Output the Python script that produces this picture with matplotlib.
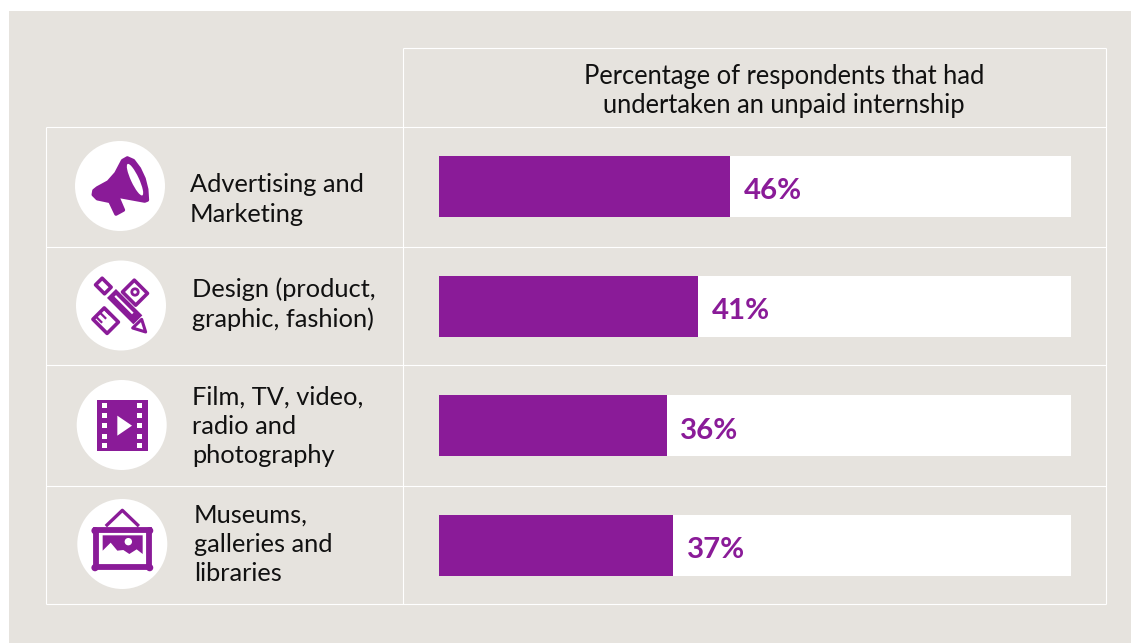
import matplotlib
matplotlib.use("Agg")
import matplotlib.pyplot as plt
from matplotlib.patches import Circle, Ellipse, Polygon, Rectangle
import numpy as np

# Survey values
categories = ["Advertising and\nMarketing", "Design (product,\ngraphic, fashion)",
              "Film, TV, video,\nradio and\nphotography", "Museums,\ngalleries and\nlibraries"]
percentages = [46, 41, 36, 37]
header = "Percentage of respondents that had\nundertaken an unpaid internship"

W, H = 1131, 643
PURPLE = "#8a1b98"
PANEL = "#e6e3de"
FONT = "Lato"

fig = plt.figure(figsize=(W / 100, H / 100), dpi=100, facecolor="white")

# Pixel-space layer for panel, table rules, labels and icons
bg = fig.add_axes([0, 0, 1, 1])
bg.set_xlim(0, W)
bg.set_ylim(H, 0)
bg.axis("off")
bg.add_patch(Rectangle((9, 11), W - 9, H - 11, fc=PANEL, ec="none"))

rule = dict(color="white", lw=0.8, solid_capstyle="butt")
for y in (127.5, 247.5, 365.5, 486.5, 604.5):
    bg.plot([46, 1106], [y - 0.5, y - 0.5], **rule)
bg.plot([402.5, 1106], [48, 48], **rule)
bg.plot([46, 46], [127, 604], **rule)
bg.plot([402.5, 402.5], [48, 604], **rule)
bg.plot([1105.5, 1105.5], [48, 604], **rule)

# Two header lines placed on their own baselines
for line, base in zip(header.split("\n"), (84, 113)):
    bg.text(784, base, line, ha="center", va="baseline", fontsize=18.4,
            family=FONT, color="#111111")

label_x = [190, 192, 192, 194]
label_y = [199.5, 304.5, 426.5, 544.5]
for text, x, y in zip(categories, label_x, label_y):
    bg.text(x, y, text, ha="left", va="center", fontsize=18.3, family=FONT,
            color="#111111", linespacing=1.32)

centers = [(120, 186), (121, 305.5), (121.7, 425), (122.3, 544)]
for c in centers:
    bg.add_patch(Circle(c, 45, fc="white", ec="none"))


def from_crop(pts, ox, oy):
    return [(ox + x / 3, oy + y / 3) for x, y in pts]


def poly(pts, ox, oy, fc=PURPLE, **kw):
    bg.add_patch(Polygon(from_crop(pts, ox, oy), closed=True, fc=fc, ec="none", **kw))


def rotated(cx, cy, w, h, ox, oy, fc=PURPLE, ec="none", lw=0):
    # Rectangle turned 45 degrees, given in crop units
    a = np.deg2rad(45)
    u, v = np.array([np.cos(a), np.sin(a)]), np.array([-np.sin(a), np.cos(a)])
    c = np.array([cx, cy])
    corners = [c + s * w / 2 * u + t * h / 2 * v for s, t in ((-1, -1), (1, -1), (1, 1), (-1, 1))]
    bg.add_patch(Polygon(from_crop(corners, ox, oy), closed=True, fc=fc, ec=ec, lw=lw,
                         joinstyle="round"))


# Megaphone
ox, oy = 40, 120
verts = from_crop([(262, 114), (280, 122), (298, 146), (312, 176), (320, 208), (322, 240),
                   (314, 243), (232, 228), (250, 270), (228, 282), (210, 244), (172, 236),
                   (160, 224), (162, 212), (172, 204), (205, 186), (228, 160), (248, 122)], ox, oy)
bg.add_patch(Polygon(verts, closed=True, fc=PURPLE, ec=PURPLE, lw=2.6, joinstyle="round"))
bg.add_patch(Ellipse((40 + 285 / 3, 120 + 179 / 3), 24 / 3, 104 / 3, angle=-25, fc="white", ec="none"))

# Crossed pencil and ruler
outline = dict(fc="white", ec=PURPLE, lw=2.6)
rotated(285, 518, 56, 50, ox, oy, **outline)
bg.add_patch(Circle((40 + 285 / 3, 120 + 516 / 3), 3.2, fc="white", ec=PURPLE, lw=2))
rotated(197, 602, 60, 48, ox, oy, **outline)
for cx, cy in ((170, 592), (182, 580), (194, 568)):
    bg.plot([40 + cx / 3, 40 + (cx + 14) / 3], [120 + cy / 3, 120 + (cy + 14) / 3],
            color=PURPLE, lw=1.6)
rotated(245, 563, 180, 48, ox, oy, fc="white")
rotated(190, 498, 38, 28, ox, oy, fc="white", ec=PURPLE, lw=2.6)
rotated(254, 560, 112, 38, ox, oy)
bg.plot([40 + 228 / 3, 40 + 276 / 3], [120 + 530 / 3, 120 + 578 / 3], color="white", lw=1.6)
bg.add_patch(Polygon(from_crop([(305, 598), (317, 636), (278, 624)], ox, oy), closed=True,
                     fc="white", ec=PURPLE, lw=2.2, joinstyle="round"))

# Film strip
ox, oy = 40, 360
x0, y0 = from_crop([(170, 120)], ox, oy)[0]
bg.add_patch(Rectangle((x0, y0), 153 / 3, 153 / 3, fc=PURPLE, ec="none"))
for zx in (186, 292):
    for zy in (128, 159, 190, 221, 250):
        x, y = from_crop([(zx, zy)], ox, oy)[0]
        bg.add_patch(Rectangle((x, y), 5, 5, fc="white", ec="none"))
poly([(232, 167), (276, 197), (232, 227)], ox, oy, fc="white")

# Framed picture
bg.plot(*zip(*from_crop([(201, 495), (247, 451), (293, 495)], ox, oy)), color=PURPLE, lw=2.4,
        solid_joinstyle="round")
x0, y0 = from_crop([(168, 511)], ox, oy)[0]
bg.add_patch(Rectangle((x0, y0), 158 / 3, 110 / 3, fc="white", ec=PURPLE, lw=4.2))
for zx, zy in ((165, 512), (329, 512), (165, 623), (329, 623)):
    bg.add_patch(Circle(from_crop([(zx, zy)], ox, oy)[0], 3.6, fc=PURPLE, ec="none"))
poly([(188, 526), (308, 526), (308, 582), (290, 568), (268, 582), (250, 570), (232, 572),
      (212, 548), (188, 572)], ox, oy)
bg.add_patch(Circle(from_crop([(265, 545)], ox, oy)[0], 3.7, fc="white", ec="none"))

# Bars on a 0-100 scale, one slot per row
left, right, top, bottom = 439, 1071, 126.75, 605.25
ax = fig.add_axes([left / W, 1 - bottom / H, (right - left) / W, (bottom - top) / H])
ax.patch.set_alpha(0)
ax.set_xlim(0, 100)
ax.set_ylim(3.5, -0.5)
ax.axis("off")
slots = np.arange(len(categories))
ax.barh(slots, [100] * len(slots), height=0.51, color="white")
ax.barh(slots, percentages, height=0.51, color=PURPLE)
for i, v in zip(slots, percentages):
    ax.text(v + 2.2, i + 0.04, f"{v}%", ha="left", va="center", fontsize=21.2,
            family=FONT, weight="bold", color=PURPLE)

fig.savefig("out.png", dpi=100, facecolor="white")
